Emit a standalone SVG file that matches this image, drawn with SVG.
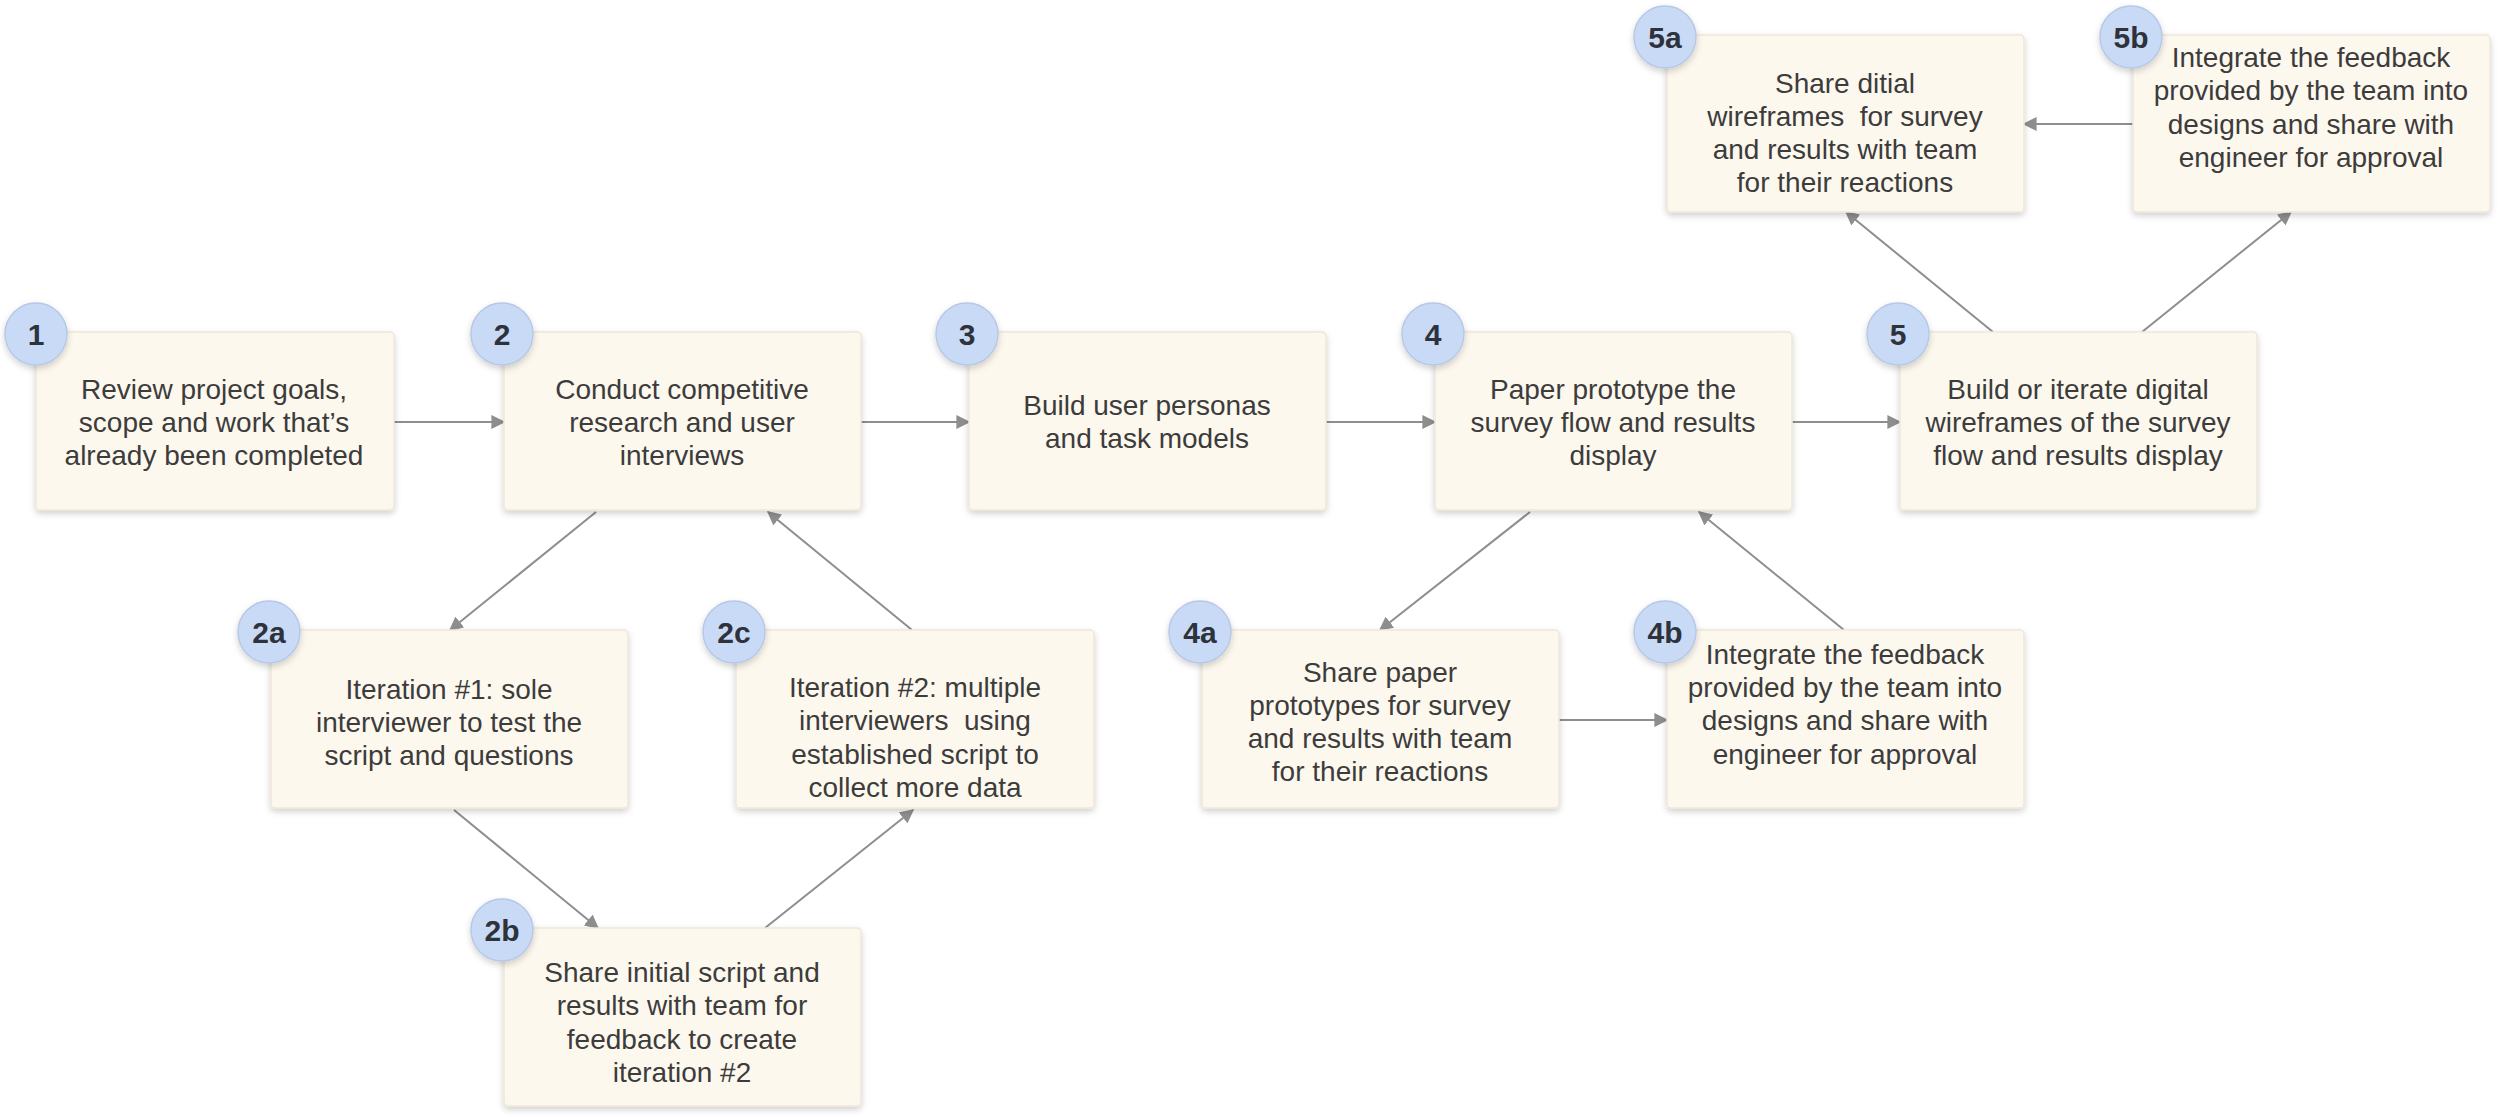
<svg xmlns="http://www.w3.org/2000/svg" width="2500" height="1117" viewBox="0 0 2500 1117">
<style>
.box{fill:#fdf8ee;stroke:#efe6d6;stroke-width:1.5}
.t{font-family:"Liberation Sans",Arial,sans-serif;font-size:28px;fill:#3c3c3c;text-anchor:middle;dominant-baseline:central}
.c{fill:#c9daf6;stroke:#b7c8e6;stroke-width:1.5}
.n{font-family:"Liberation Sans",Arial,sans-serif;font-size:30px;font-weight:bold;fill:#2e323b;text-anchor:middle;dominant-baseline:central}
.e{stroke:#8e8e8e;stroke-width:2;fill:none;marker-end:url(#a)}
</style>
<defs>
<marker id="a" viewBox="0 0 10 10" refX="9" refY="5" markerWidth="7" markerHeight="7" orient="auto" markerUnits="strokeWidth"><path d="M0,0 L10,5 L0,10 z" fill="#8e8e8e"/></marker>
<filter id="s" x="-10%" y="-10%" width="120%" height="130%"><feDropShadow dx="0" dy="3" stdDeviation="3" flood-color="#000" flood-opacity="0.18"/></filter>
</defs>
<rect width="2500" height="1117" fill="#fff"/>
<g id="connectors">
<line class="e" x1="394" y1="422" x2="504" y2="422"/>
<line class="e" x1="861" y1="422" x2="969" y2="422"/>
<line class="e" x1="1326" y1="422" x2="1435" y2="422"/>
<line class="e" x1="1792" y1="422" x2="1900" y2="422"/>
<line class="e" x1="596" y1="512" x2="450" y2="630"/>
<line class="e" x1="912" y1="630" x2="768" y2="512"/>
<line class="e" x1="454" y1="810" x2="598" y2="928"/>
<line class="e" x1="765" y1="928" x2="913" y2="810"/>
<line class="e" x1="1530" y1="512" x2="1380" y2="630"/>
<line class="e" x1="1844" y1="630" x2="1699" y2="512"/>
<line class="e" x1="1559" y1="720" x2="1667" y2="720"/>
<line class="e" x1="1993" y1="332" x2="1846" y2="212"/>
<line class="e" x1="2142" y1="332" x2="2291" y2="212"/>
<line class="e" x1="2133" y1="124" x2="2024" y2="124"/>
</g>
<g id="n1"><rect class="box" filter="url(#s)" x="36" y="332" width="358" height="178" rx="4"/><text class="t" x="214" y="389">Review project goals,</text><text class="t" x="214" y="422">scope and work that’s</text><text class="t" x="214" y="455">already been completed</text><circle class="c" filter="url(#s)" cx="36" cy="334" r="31"/><text class="n" x="36" y="334">1</text></g>
<g id="n2"><rect class="box" filter="url(#s)" x="504" y="332" width="357" height="178" rx="4"/><text class="t" x="682" y="389">Conduct competitive</text><text class="t" x="682" y="422">research and user</text><text class="t" x="682" y="455">interviews</text><circle class="c" filter="url(#s)" cx="502" cy="334" r="31"/><text class="n" x="502" y="334">2</text></g>
<g id="n3"><rect class="box" filter="url(#s)" x="969" y="332" width="357" height="178" rx="4"/><text class="t" x="1147" y="405">Build user personas</text><text class="t" x="1147" y="438">and task models</text><circle class="c" filter="url(#s)" cx="967" cy="334" r="31"/><text class="n" x="967" y="334">3</text></g>
<g id="n4"><rect class="box" filter="url(#s)" x="1435" y="332" width="357" height="178" rx="4"/><text class="t" x="1613" y="389">Paper prototype the</text><text class="t" x="1613" y="422">survey flow and results</text><text class="t" x="1613" y="455">display</text><circle class="c" filter="url(#s)" cx="1433" cy="334" r="31"/><text class="n" x="1433" y="334">4</text></g>
<g id="n5"><rect class="box" filter="url(#s)" x="1900" y="332" width="357" height="178" rx="4"/><text class="t" x="2078" y="389">Build or iterate digital</text><text class="t" x="2078" y="422">wireframes of the survey</text><text class="t" x="2078" y="455">flow and results display</text><circle class="c" filter="url(#s)" cx="1898" cy="334" r="31"/><text class="n" x="1898" y="334">5</text></g>
<g id="n2a"><rect class="box" filter="url(#s)" x="271" y="630" width="357" height="178" rx="4"/><text class="t" x="449" y="689">Iteration #1: sole</text><text class="t" x="449" y="722">interviewer to test the</text><text class="t" x="449" y="755">script and questions</text><circle class="c" filter="url(#s)" cx="269" cy="632" r="31"/><text class="n" x="269" y="632">2a</text></g>
<g id="n2c"><rect class="box" filter="url(#s)" x="736" y="630" width="358" height="178" rx="4"/><text class="t" x="915" y="687">Iteration #2: multiple</text><text class="t" x="915" y="720" xml:space="preserve">interviewers  using</text><text class="t" x="915" y="754">established script to</text><text class="t" x="915" y="787">collect more data</text><circle class="c" filter="url(#s)" cx="734" cy="632" r="31"/><text class="n" x="734" y="632">2c</text></g>
<g id="n2b"><rect class="box" filter="url(#s)" x="504" y="928" width="357" height="178" rx="4"/><text class="t" x="682" y="972">Share initial script and</text><text class="t" x="682" y="1005">results with team for</text><text class="t" x="682" y="1039">feedback to create</text><text class="t" x="682" y="1072">iteration #2</text><circle class="c" filter="url(#s)" cx="502" cy="930" r="31"/><text class="n" x="502" y="930">2b</text></g>
<g id="n4a"><rect class="box" filter="url(#s)" x="1202" y="630" width="357" height="178" rx="4"/><text class="t" x="1380" y="672">Share paper</text><text class="t" x="1380" y="705">prototypes for survey</text><text class="t" x="1380" y="738">and results with team</text><text class="t" x="1380" y="771">for their reactions</text><circle class="c" filter="url(#s)" cx="1200" cy="632" r="31"/><text class="n" x="1200" y="632">4a</text></g>
<g id="n4b"><rect class="box" filter="url(#s)" x="1667" y="630" width="357" height="178" rx="4"/><text class="t" x="1845" y="654">Integrate the feedback</text><text class="t" x="1845" y="687">provided by the team into</text><text class="t" x="1845" y="720">designs and share with</text><text class="t" x="1845" y="754">engineer for approval</text><circle class="c" filter="url(#s)" cx="1665" cy="632" r="31"/><text class="n" x="1665" y="632">4b</text></g>
<g id="n5a"><rect class="box" filter="url(#s)" x="1667" y="35" width="357" height="177" rx="4"/><text class="t" x="1845" y="83">Share ditial</text><text class="t" x="1845" y="116" xml:space="preserve">wireframes  for survey</text><text class="t" x="1845" y="149">and results with team</text><text class="t" x="1845" y="182">for their reactions</text><circle class="c" filter="url(#s)" cx="1665" cy="37" r="31"/><text class="n" x="1665" y="37">5a</text></g>
<g id="n5b"><rect class="box" filter="url(#s)" x="2133" y="35" width="357" height="177" rx="4"/><text class="t" x="2311" y="57">Integrate the feedback</text><text class="t" x="2311" y="90">provided by the team into</text><text class="t" x="2311" y="124">designs and share with</text><text class="t" x="2311" y="157">engineer for approval</text><circle class="c" filter="url(#s)" cx="2131" cy="37" r="31"/><text class="n" x="2131" y="37">5b</text></g>
</svg>
